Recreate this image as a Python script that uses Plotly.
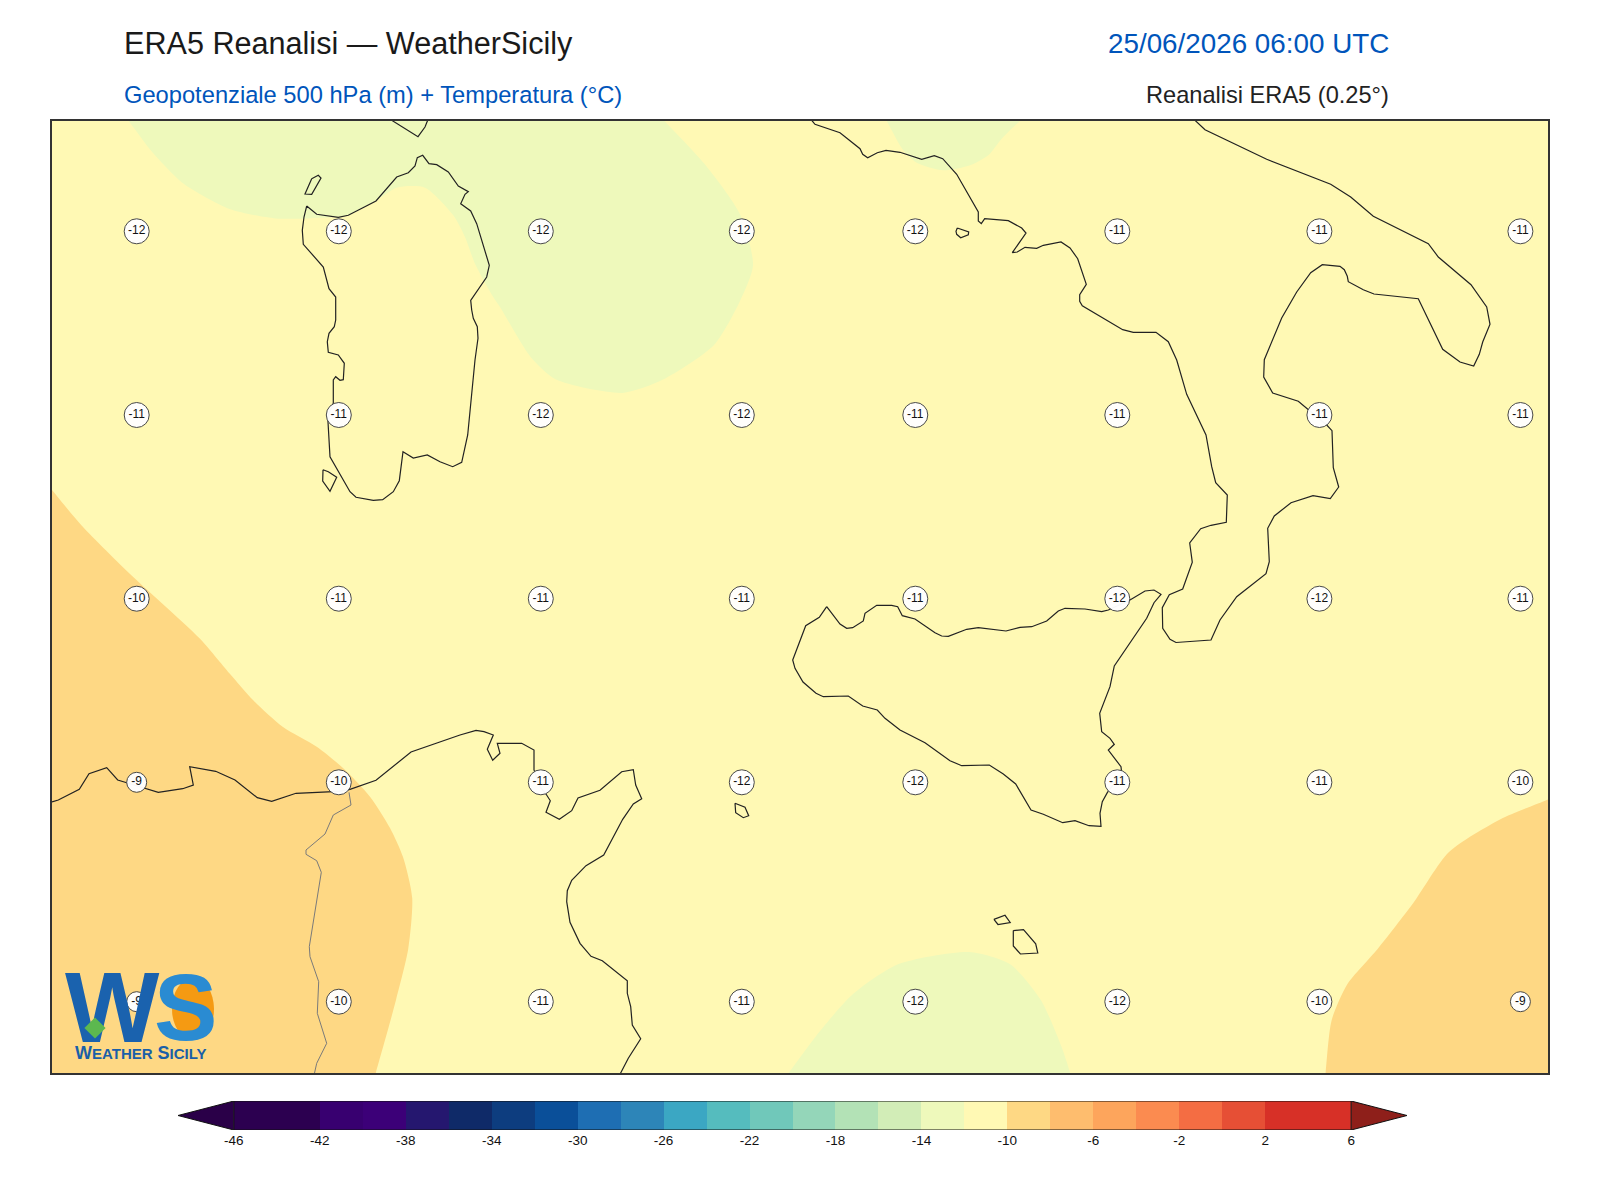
import plotly.graph_objects as go

# ---------- Map-grid coordinates ----------
MAP_X_RANGE = [52, 1548]
MAP_Y_RANGE = [1073, 120.5]

LABEL_X = [136.7, 338.8, 540.8, 741.8, 915.3, 1117.3, 1319.4, 1520.4]
LABEL_Y = [231.3, 415, 598.7, 782.3, 1001.7]
TEMP_ROWS = [
    [-12, -12, -12, -12, -12, -11, -11, -11],
    [-11, -11, -12, -12, -11, -11, -11, -11],
    [-10, -11, -11, -11, -11, -12, -12, -11],
    [-9, -10, -11, -12, -12, -11, -11, -10],
    [-9, -10, -11, -11, -12, -12, -10, -9],
]

LEVELS = [-46, -44, -42, -40, -38, -36, -34, -32, -30, -28, -26, -24, -22,
          -20, -18, -16, -14, -12, -10, -8, -6, -4, -2, 0, 2, 4]
LEVEL_COLORS = ["#2c0050", "#2c0050", "#380070", "#3c0078", "#25176f", "#0f2a68",
                "#0d3d7f", "#0a4f99", "#1e6eb3", "#2d85b8", "#3ba7c3", "#55bcbe",
                "#70c8ba", "#94d6b9", "#b3e2b6", "#d2edb7", "#eef9bb", "#fff9b4",
                "#fed884", "#febd6e", "#fda55c", "#fb8b50", "#f46d43", "#e64f35",
                "#d73027", "#d73027"]
CBAR_TICKS = [-46, -42, -38, -34, -30, -26, -22, -18, -14, -10, -6, -2, 2, 6]

WARM_W_X = [10, 51, 81.6, 132.7, 199, 229.6, 253, 283, 316.7, 343, 370, 390, 403, 412.2, 408.2, 396, 375.5, 365, 10]
WARM_W_Y = [440, 488.8, 525.5, 576.5, 637.8, 673.5, 700, 727, 746.7, 768, 796.7, 828, 857, 898, 949, 1000, 1074, 1110, 1110]
WARM_E_X = [1590, 1549, 1500, 1449, 1413.3, 1377.6, 1347, 1331.6, 1325.5, 1322, 1590]
WARM_E_Y = [780, 799, 819.4, 852, 903, 949, 984.7, 1020.4, 1074, 1110, 1110]
COOL_N_X = [100, 127.6, 153, 183.7, 229.6, 275.5, 316.7, 346.7, 376.7, 396.7, 425, 453.3, 465, 475, 493.3, 500,
            530.6, 556, 622.4, 663, 714, 740, 753, 740, 704, 663, 630]
COOL_N_Y = [85, 119.5, 153, 183.7, 209, 218.4, 218, 215.3, 200.3, 187.7, 187.7, 215.3, 237, 263.7, 297, 307,
            357, 379.6, 392.9, 379.6, 345, 301, 265.3, 214.3, 163.3, 119.5, 85]
COOL_TOP_X = [870, 886, 903.3, 916.7, 943.3, 970, 988.3, 1001.7, 1021.7, 1060]
COOL_TOP_Y = [90, 119.5, 150.3, 162.7, 170.3, 165.3, 155.3, 138.7, 119.5, 90]
COOL_S_X = [760, 787.8, 816.3, 852, 898, 969.4, 1010.2, 1040.8, 1061.2, 1070.4, 1078]
COOL_S_Y = [1110, 1074, 1035.7, 995, 964.3, 952, 964.3, 1000, 1046, 1074, 1110]

SARDINIA_X = [306.7, 316.7, 338.3, 348.3, 376, 396.7, 408.3, 415, 417.3, 422.7, 429, 436.7, 448.3, 458.3, 468.3, 465,
              460.7, 470.7, 476.7, 489.3, 486.7, 470.7, 471.7, 473.3, 477.3, 478, 475, 467.7, 461.7, 452.7, 440,
              427.3, 413.3, 403, 399.3, 393.3, 382.7, 373.3, 356, 350, 330, 327.7, 333.3, 333.3, 335.7, 340, 343.3,
              344.3, 338.3, 328.3, 327.3, 329, 334.3, 335.7, 335.7, 329, 323.3, 303.3, 302.3, 304, 306.7]
SARDINIA_Y = [206, 214.3, 217.3, 215.3, 201, 177, 172.7, 166, 157.7, 155.3, 163.7, 164.7, 172, 186, 191.7, 194.3,
              203.7, 211, 223.7, 265.3, 277, 300.3, 310, 318.3, 326.7, 338.3, 360, 435, 462.3, 466.7, 461.7,
              455, 458, 451.7, 480.7, 491.7, 499.7, 500.3, 497.3, 491.7, 456.7, 416.7, 403.3, 380, 376.7, 380.3, 379.7,
              363.3, 355, 352.3, 341.7, 333.3, 326.7, 320, 297, 288.7, 267, 244.3, 230.3, 217, 206]
ASINARA_X = [311.7, 318.3, 321, 311.7, 305, 311.7]
ASINARA_Y = [178.7, 175.3, 178, 194.3, 194, 178.7]
ANTIOCO_X = [323, 328.3, 336.7, 330, 322.7, 323]
ANTIOCO_Y = [469.7, 471.7, 477.3, 491.3, 481, 469.7]
CORSICA_X = [391.7, 418, 425, 427.7]
CORSICA_Y = [120.3, 136.7, 127, 120.3]

ITALY_X = [811.7, 815, 840, 860, 862.7, 867.7, 877.3, 886, 900, 921.7, 934.3, 942.7, 956.7, 978.3, 978.3, 981.3,
           984.7, 1008.3, 1021.7, 1026, 1012.3, 1017.3, 1025, 1036.7, 1043.3, 1061, 1070, 1077.7, 1086.3, 1079.7,
           1079.7, 1082.3, 1122.7, 1133.3, 1156, 1168.3, 1176.7, 1186.7, 1206, 1211.7, 1215.7, 1227.3, 1226.3,
           1211, 1200.7, 1189.7, 1192.3, 1182.7, 1169.3, 1162.3, 1162.7, 1170, 1176, 1211, 1220, 1236.7, 1266,
           1269.3, 1267.7, 1274.3, 1291, 1313, 1330.3, 1338.7, 1333.3, 1332, 1326.7, 1306.7, 1298.3, 1272.7,
           1263.7, 1264.3, 1281.7, 1296.7, 1310.7, 1322.3, 1340, 1344.3, 1347.3, 1348.3, 1363.3, 1374, 1418.3,
           1442.7, 1460, 1473.7, 1479.3, 1482.7, 1490, 1486.7, 1471, 1438.3, 1428.3, 1373.3, 1350.7, 1330.7,
           1266.7, 1205, 1195]
ITALY_Y = [120.3, 124.3, 132.7, 148.7, 154.3, 157.7, 152.7, 150.3, 152.3, 159.3, 155.7, 158.7, 174.3, 212, 221, 223.7,
           218.7, 220.7, 228, 233, 252.7, 252, 247.3, 248.3, 245.3, 242, 248, 258.7, 284.3, 294.7,
           301.3, 305.7, 329.7, 332.3, 332.3, 341.7, 360, 394.3, 435, 466.7, 482.7, 495, 522.3,
           525.3, 528.7, 543, 562.3, 589, 594.7, 607.7, 628.3, 639.3, 642.5, 640, 620, 596.7, 573.7,
           561.7, 528.3, 516, 502.7, 495.7, 498.7, 487, 467.7, 430.7, 425, 408.3, 401.3, 393,
           377, 359.7, 318, 292, 272.7, 264.7, 266.3, 269.7, 276.3, 281.7, 289.7, 294, 298.7,
           349.3, 362, 366, 354.3, 342, 324.3, 307, 284.7, 257, 243.7, 216.3, 197, 184.3,
           159.3, 129.7, 120.3]

SICILY_X = [826.7, 819.3, 805.7, 792.7, 795, 803, 816, 823.3, 848.3, 862.7, 877.3, 885, 900, 925, 950, 961.7, 989.3,
            1003.3, 1015.7, 1031, 1043.3, 1062.7, 1075, 1089, 1101, 1100, 1102.3, 1107.3, 1121.7, 1121, 1108.3,
            1114.3, 1110, 1101.7, 1099.7, 1110, 1114.3, 1131.7, 1146.7, 1154, 1161, 1154, 1145, 1130, 1108.3,
            1101.7, 1085, 1065, 1058.3, 1046.7, 1031.7, 1020, 1006, 978.3, 966.7, 948.3, 941.7, 935, 915, 902.3,
            897.7, 891.7, 876.7, 865, 863.3, 852.7, 846.7, 840, 826.7]
SICILY_Y = [606.7, 617.3, 625.7, 660, 668.3, 682, 693.3, 696.7, 696, 706, 710, 718.3, 730, 742.7, 760.7, 765.7, 765,
            774, 784, 810, 814.3, 822.7, 820.7, 825.7, 826.3, 813.3, 801.7, 792.7, 773.3, 766.7, 750,
            744.3, 738.3, 731.7, 713.3, 686.7, 666, 640, 618.3, 602.7, 594.3, 590, 591, 600, 610,
            611.7, 609, 608.3, 611, 621, 626.7, 627.3, 631, 627.7, 629.3, 636.3, 636, 632.7, 619, 615.7,
            606.7, 605.3, 605.3, 613.3, 621, 627.7, 628.3, 624, 606.7]

AFRICA_X = [52, 58.3, 79.3, 89, 106.7, 117.7, 126.7, 145, 158.3, 182.7, 193.3, 189.7, 215.7, 235, 257.3, 271.7, 296,
            338.7, 350, 376, 390, 411, 460, 476, 484, 493.3, 487.3, 492.7, 500, 497.3, 521.7, 534, 534, 540, 546,
            550.3, 546, 559.3, 571.7, 578, 600, 621.7, 633.3, 635.7, 641.7, 633.3, 622.7, 603.7, 586, 571.7, 567.3,
            566.7, 570, 580, 591, 602.3, 627.3, 627.3, 630.7, 632.3, 640.7, 628.3, 620.4]
AFRICA_Y = [802, 800, 789.3, 773.7, 767.7, 780, 782.7, 788.3, 792.3, 788.7, 785, 766.7, 771.3, 780, 797.7, 801.3, 793.3,
            791.3, 789.3, 780.3, 769, 752, 735, 730.3, 731.7, 735, 749.3, 760.3, 753.3, 743.3, 743.3, 750, 770, 786.7, 794,
            800.7, 812.3, 819.3, 810.7, 798, 790.3, 771.7, 769.7, 785, 798.7, 804, 819.3, 855, 865.7, 880.3, 890.7,
            901.7, 922.3, 943.3, 956.3, 960.7, 980.7, 993.3, 1006.7, 1025, 1038.7, 1058.3, 1073.5]
BORDER_X = [349, 351, 333.3, 325, 306, 306, 316.7, 321.3, 309.3, 310, 318.7, 317.3, 326.7, 316.7, 314.3]
BORDER_Y = [792.3, 805, 815, 834, 850, 854.3, 860.7, 872.3, 946.7, 956.7, 981.7, 1013.3, 1043.3, 1063.3, 1074]

ISLE_A_X = [735, 745, 748.7, 743.3, 735.7, 735]
ISLE_A_Y = [803.3, 807.3, 815.7, 817.7, 812.7, 803.3]
ISLE_B_X = [993.9, 1005, 1010.2, 998, 993.9]
ISLE_B_Y = [919.4, 915.3, 922.5, 924.5, 919.4]
ISLE_C_X = [1013.3, 1023.5, 1035.7, 1037.8, 1020.4, 1013.3, 1013.3]
ISLE_C_Y = [930.6, 929.6, 943.9, 953, 954, 945.9, 930.6]
ISLE_D_X = [957.3, 968.7, 968.3, 960.7, 956.7, 956, 957.3]
ISLE_D_Y = [228, 232, 234.7, 237.7, 234.3, 231.3, 228]

COASTS = [(SARDINIA_X, SARDINIA_Y), (ASINARA_X, ASINARA_Y), (ANTIOCO_X, ANTIOCO_Y), (CORSICA_X, CORSICA_Y),
          (ITALY_X, ITALY_Y), (SICILY_X, SICILY_Y), (AFRICA_X, AFRICA_Y), (ISLE_A_X, ISLE_A_Y),
          (ISLE_B_X, ISLE_B_Y), (ISLE_C_X, ISLE_C_Y), (ISLE_D_X, ISLE_D_Y)]

W, H = 1584, 1184
OFF_X, OFF_Y = 8, 8


def px(x):
    return (x - OFF_X) / W


def py(y):
    return 1 - (y - OFF_Y) / H


fig = go.Figure()

for xs, ys in [(WARM_W_X, WARM_W_Y), (WARM_E_X, WARM_E_Y)]:
    fig.add_trace(go.Scatter(x=xs, y=ys, mode="lines", fill="toself", fillcolor="#fed884",
                             line=dict(width=0, shape="spline", smoothing=0.7), hoverinfo="skip", showlegend=False))
for xs, ys in [(COOL_N_X, COOL_N_Y), (COOL_TOP_X, COOL_TOP_Y), (COOL_S_X, COOL_S_Y)]:
    fig.add_trace(go.Scatter(x=xs, y=ys, mode="lines", fill="toself", fillcolor="#eef9bb",
                             line=dict(width=0, shape="spline", smoothing=0.7), hoverinfo="skip", showlegend=False))

for xs, ys in COASTS:
    fig.add_trace(go.Scatter(x=xs, y=ys, mode="lines", line=dict(color="#222222", width=1.2),
                             hoverinfo="skip", showlegend=False))
fig.add_trace(go.Scatter(x=BORDER_X, y=BORDER_Y, mode="lines", line=dict(color="#7a7a7a", width=1),
                         hoverinfo="skip", showlegend=False))

lab_x, lab_y, lab_t, lab_s = [], [], [], []
for y, row in zip(LABEL_Y, TEMP_ROWS):
    for x, v in zip(LABEL_X, row):
        lab_x.append(x)
        lab_y.append(y)
        lab_t.append(str(v))
        lab_s.append(25 if len(str(v)) == 3 else 20)
fig.add_trace(go.Scatter(x=lab_x, y=lab_y, mode="markers+text", text=lab_t, textposition="middle center",
                         textfont=dict(family="Liberation Sans", size=12, color="#111111"),
                         marker=dict(size=lab_s, color="white", opacity=0.97, line=dict(color="#444444", width=1)),
                         hoverinfo="skip", showlegend=False))

# colour bar
fig.add_trace(go.Bar(x=[2] * len(LEVELS), base=LEVELS, y=[0] * len(LEVELS), orientation="h", width=1,
                     marker=dict(color=LEVEL_COLORS, line=dict(width=0)), xaxis="x2", yaxis="y2",
                     hoverinfo="skip", showlegend=False))
fig.add_trace(go.Scatter(x=[-46, -48.6, -46, -46], y=[-0.5, 0, 0.5, -0.5], mode="lines", fill="toself",
                         fillcolor="#2a0048", line=dict(color="#111111", width=1), xaxis="x2", yaxis="y2",
                         hoverinfo="skip", showlegend=False))
fig.add_trace(go.Scatter(x=[6, 8.6, 6, 6], y=[-0.5, 0, 0.5, -0.5], mode="lines", fill="toself",
                         fillcolor="#8e1f1a", line=dict(color="#111111", width=1), xaxis="x2", yaxis="y2",
                         hoverinfo="skip", showlegend=False))
fig.add_trace(go.Scatter(x=[-46, 6], y=[0.5, 0.5], mode="lines", line=dict(color="#111111", width=1.2),
                         xaxis="x2", yaxis="y2", hoverinfo="skip", showlegend=False))
fig.add_trace(go.Scatter(x=[-46, 6], y=[-0.5, -0.5], mode="lines", line=dict(color="#111111", width=1.2),
                         xaxis="x2", yaxis="y2", hoverinfo="skip", showlegend=False))

BLUE = "#0055bb"
anns = [
    dict(text="ERA5 Reanalisi — WeatherSicily", x=px(121.5), y=py(43), xanchor="left", font=dict(size=30.6, color="#1a1a1a")),
    dict(text="25/06/2026 06:00 UTC", x=px(1391), y=py(44), xanchor="right", font=dict(size=27.8, color=BLUE)),
    dict(text="Geopotenziale 500 hPa (m) + Temperatura (°C)", x=px(121.5), y=py(95), xanchor="left", font=dict(size=23.7, color=BLUE)),
    dict(text="Reanalisi ERA5 (0.25°)", x=px(1391), y=py(95), xanchor="right", font=dict(size=23.6, color="#222222")),
    dict(text="<b>W</b>", x=px(112), y=py(1007), xanchor="center", font=dict(size=100, color="#1a62ae")),
    dict(text="<b>S</b>", x=px(185), y=py(1007), xanchor="center", font=dict(size=95, color="#2a8bd2")),
    dict(text='<b>W<span style="font-size:15px">EATHER</span> S<span style="font-size:15px">ICILY</span></b>',
         x=px(140.5), y=py(1053), xanchor="center", font=dict(size=18, color="#1a5fa8")),
    dict(text="&nbsp;", x=px(95), y=py(1028), xanchor="center", textangle=-45, width=12, height=12,
         bgcolor="#5cb84f", font=dict(size=8, color="#5cb84f")),
]
for a in anns:
    a.update(xref="paper", yref="paper", showarrow=False, yanchor="middle")
    a["font"]["family"] = "Liberation Sans"

shapes = [
    dict(type="rect", xref="x domain", yref="y domain", x0=0, x1=1, y0=0, y1=1,
         fillcolor="#fff9b4", line=dict(width=0), layer="below"),
    dict(type="circle", xref="paper", yref="paper", x0=px(172), x1=px(214), y0=py(1040), y1=py(978),
         fillcolor="#f59a12", line=dict(width=0), layer="above"),
]

fig.update_layout(
    width=W, height=H, margin=dict(l=0, r=0, t=0, b=0), paper_bgcolor="white", plot_bgcolor="white",
    showlegend=False, barmode="overlay", bargap=0, annotations=anns, shapes=shapes,
    font=dict(family="Liberation Sans"),
    xaxis=dict(domain=[px(52), px(1548)], range=MAP_X_RANGE, showgrid=False, zeroline=False, showticklabels=False,
               ticks="", showline=True, mirror=True, linecolor="#333333", linewidth=1.6),
    yaxis=dict(domain=[py(1073), py(120.5)], range=MAP_Y_RANGE, showgrid=False, zeroline=False, showticklabels=False,
               ticks="", showline=True, mirror=True, linecolor="#333333", linewidth=1.6),
    xaxis2=dict(domain=[px(178), px(1407)], range=[-48.6, 8.6], anchor="y2", tickvals=CBAR_TICKS, ticktext=[str(t) for t in CBAR_TICKS],
                ticks="", tickfont=dict(size=13.5, color="#111111"),
                showgrid=False, zeroline=False, showline=False),
    yaxis2=dict(domain=[py(1130), py(1101)], range=[-0.5, 0.5], anchor="x2", showticklabels=False, ticks="",
                showgrid=False, zeroline=False, showline=False),
)

fig.write_html("out.html")
